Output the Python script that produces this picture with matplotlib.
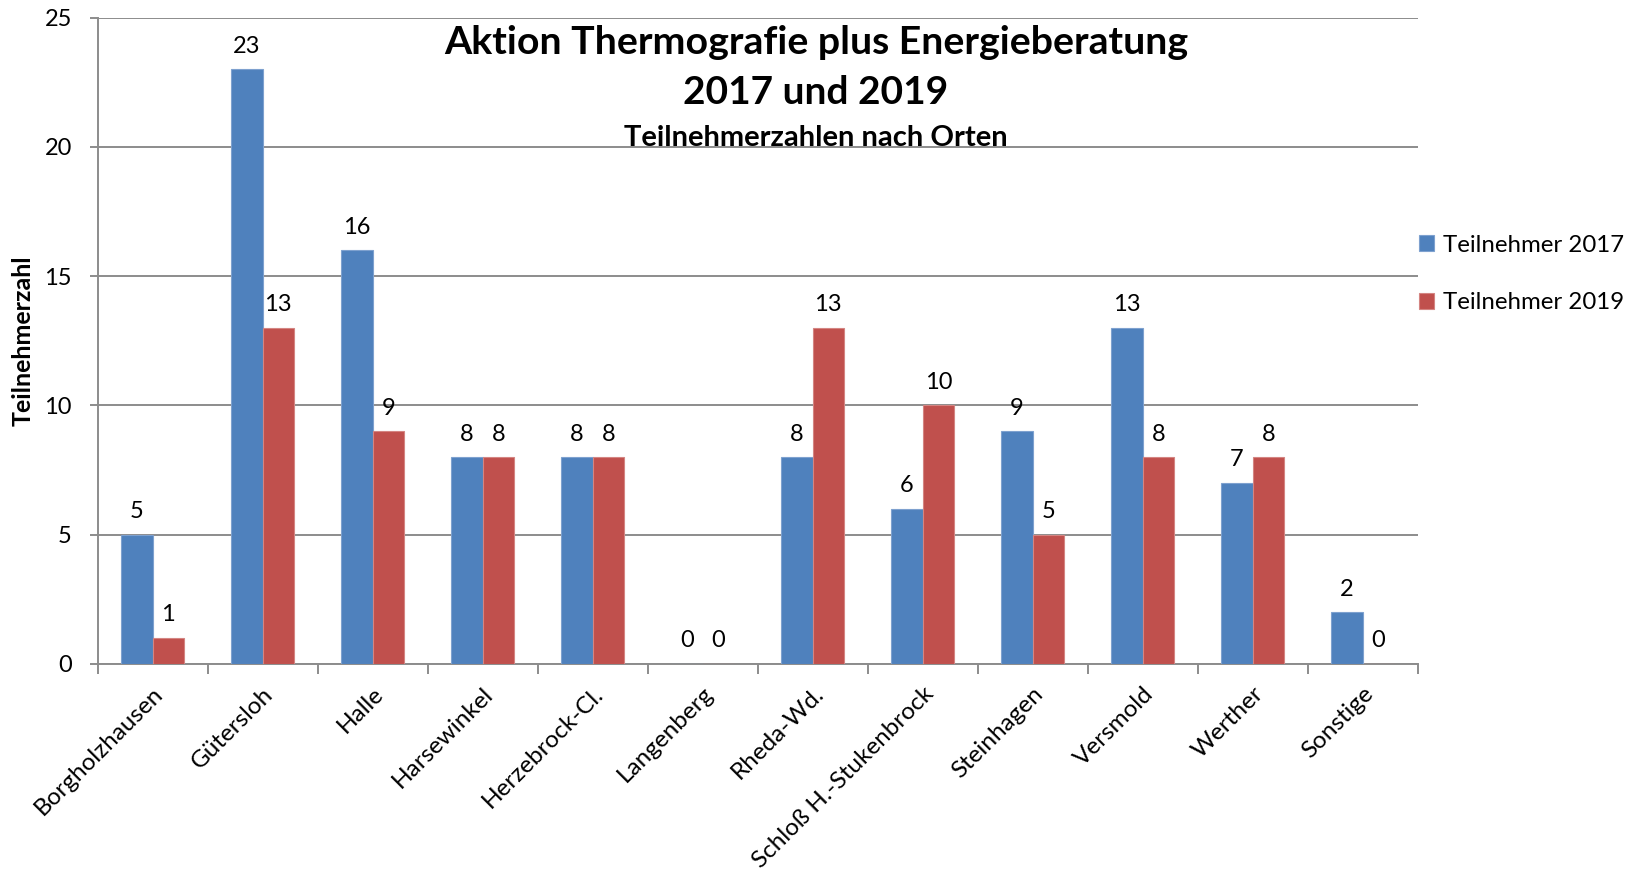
import matplotlib
matplotlib.use("Agg")
import matplotlib.pyplot as plt
import matplotlib.transforms as mtransforms
import numpy as np

categories = ["Borgholzhausen", "Gütersloh", "Halle", "Harsewinkel", "Herzebrock-Cl.",
              "Langenberg", "Rheda-Wd.", "Schloß H.-Stukenbrock", "Steinhagen",
              "Versmold", "Werther", "Sonstige"]
values_2017 = [5, 23, 16, 8, 8, 0, 8, 6, 9, 13, 7, 2]
values_2019 = [1, 13, 9, 8, 8, 0, 13, 10, 5, 8, 8, 0]
series_names = ["Teilnehmer 2017", "Teilnehmer 2019"]
y_ticks = [0, 5, 10, 15, 20, 25]

plt.rcParams['font.family'] = ['Lato', 'DejaVu Sans']

W, H = 1644, 871
fig = plt.figure(figsize=(W / 100, H / 100), dpi=100)
ax = fig.add_axes([97.5 / W, 1 - 663.7 / H, (1417.6 - 97.5) / W, (663.7 - 17.8) / H])

blue = "#4F81BD"
red = "#C0504D"
grid_c = "#8C8C8C"

x = np.arange(len(categories))
bw = 0.286
b1 = ax.bar(x - bw / 2, values_2017, bw, color=blue, edgecolor="#7EA1CF", linewidth=0.8,
            label=series_names[0], zorder=3)
b2 = ax.bar(x + bw / 2, values_2019, bw, color=red, edgecolor="#D48582", linewidth=0.8,
            label=series_names[1], zorder=3)
ax.bar_label(b1, padding=9, fontsize=17, color="black")
ax.bar_label(b2, padding=9, fontsize=17, color="black")

ax.set_xlim(-0.5, len(categories) - 0.5)
ax.set_ylim(0, 25)
ax.set_yticks(y_ticks)
ax.yaxis.grid(True, color=grid_c, linewidth=1.4, zorder=0)
ax.set_axisbelow(True)

for s in ["top", "right"]:
    ax.spines[s].set_visible(False)
for s in ["left", "bottom"]:
    ax.spines[s].set_color(grid_c)
    ax.spines[s].set_linewidth(1.4)

ax.tick_params(axis="y", length=6, width=1.4, color=grid_c, labelsize=17, pad=12.5)
ax.set_xticks(np.arange(-0.5, len(categories)), minor=False)
ax.set_xticklabels([])
ax.set_xticks(x, minor=True)
labels = ax.set_xticklabels(categories, minor=True, rotation=45, ha="right",
                            rotation_mode="anchor", fontsize=17.5)
shift = mtransforms.ScaledTranslation(-19 / 100, 0, fig.dpi_scale_trans)
for lab in labels:
    lab.set_transform(lab.get_transform() + shift)
ax.tick_params(axis="x", which="major", length=7, width=1.4, color=grid_c)
ax.tick_params(axis="x", which="minor", length=0, pad=14)

fig.text(23 / W, 1 - 341 / H, "Teilnehmerzahl", rotation=90, ha="center", va="center",
         fontsize=18, fontweight="bold")

fig.text(816 / W, 1 - 42 / H, "Aktion Thermografie plus Energieberatung", ha="center",
         va="center", fontsize=28.3, fontweight="bold")
fig.text(816 / W, 1 - 93 / H, "2017 und 2019", ha="center", va="center",
         fontsize=28, fontweight="bold")
fig.text(816 / W, 1 - 138 / H, "Teilnehmerzahlen nach Orten", ha="center", va="center",
         fontsize=21, fontweight="bold")

fig.legend(handles=[b1, b2], labels=series_names, loc="center left",
           bbox_to_anchor=(1397 / W, 1 - 274 / H), frameon=False, fontsize=17.3,
           handlelength=0.62, handleheight=0.62, handletextpad=0.4, labelspacing=1.53)

fig.savefig("out.png", dpi=100)
